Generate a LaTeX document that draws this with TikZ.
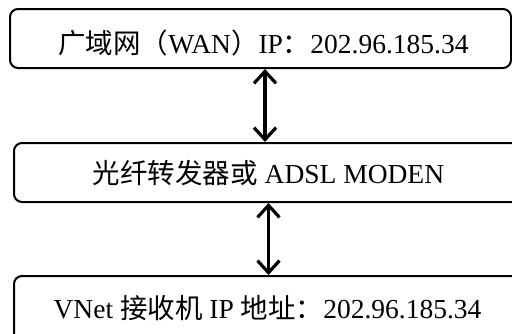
\documentclass[tikz,border=0pt]{standalone}
\usepackage{fontspec}
\setmainfont{Liberation Serif}
\newfontfamily\cjk{Noto Sans CJK SC}
\usetikzlibrary{arrows.meta}
\tikzset{
  boxnode/.style={draw=black, line width=2pt, rounded corners=8pt, inner sep=0pt, rectangle},
  txtnode/.style={inner sep=0pt, anchor=base, font=\fontsize{27.5}{33}\selectfont},
  link/.style={line width=3.2pt, {Straight Barb[length=12pt,width=22pt,line width=3.2pt]}-{Straight Barb[length=12pt,width=22pt,line width=3.2pt]}}
}
\begin{document}
\begin{tikzpicture}[x=1pt,y=-1pt]
\useasboundingbox (0,0) rectangle (512,333);
\fill[white] (0,0) rectangle (512,333);
\clip (0,0) rectangle (512,333);
\node[boxnode, minimum width=501pt, minimum height=59pt] (box1) at (260.5,38.5) {};
\node[boxnode, minimum width=516pt, minimum height=59pt] (box2) at (272,172.5) {};
\node[boxnode, minimum width=516pt, minimum height=69pt] (box3) at (272,310.5) {};
\node[txtnode] (t1) at (263.5,53) {{\cjk 广域网（}WAN{\cjk ）}IP{\cjk ：}202.96.185.34};
\node[txtnode] (t2) at (268.5,183) {{\cjk 光纤转发器或} ADSL MODEN};
\node[txtnode] (t3) at (267.5,318) {VNet {\cjk 接收机} IP {\cjk 地址：}202.96.185.34};
\draw[link] ([xshift=1.5pt]t1.base |- box1.south) -- ([xshift=1.5pt]t1.base |- box2.north);
\draw[link] (t2.base |- box2.south) -- (t2.base |- box3.north);
\end{tikzpicture}
\end{document}
